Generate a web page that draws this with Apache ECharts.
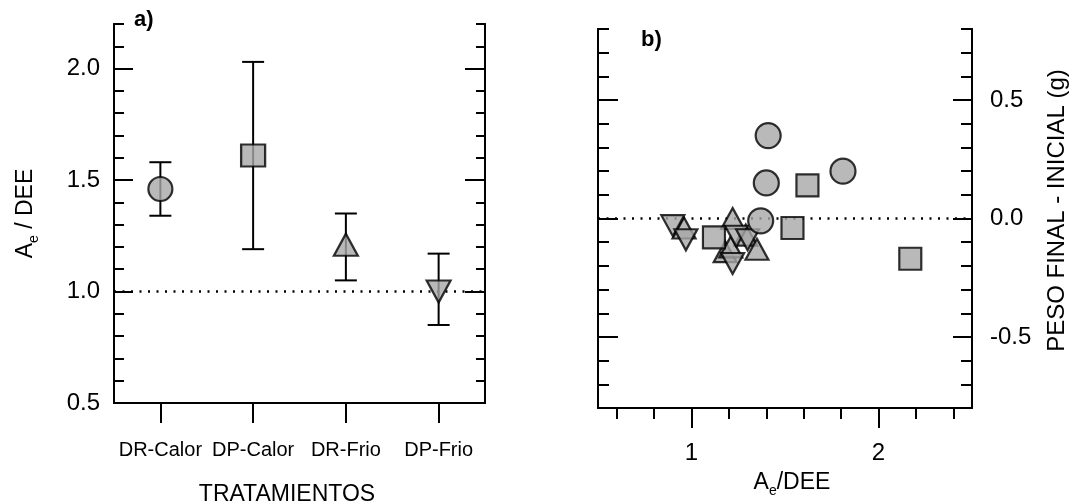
<!DOCTYPE html>
<html>
<head>
<meta charset="utf-8">
<script src="https://cdn.jsdelivr.net/npm/echarts@6/dist/echarts.min.js"></script>
<style>
  html, body { margin: 0; padding: 0; background: #fff; }
  #chart { width: 1073px; height: 503px; }
</style>
</head>
<body>
<div id="chart"></div>
<script>
// ---------- DATA ----------
// Panel a) : ratio Ae/DEE per treatment (mean and error-bar ends)
const treatments = ['DR-Calor', 'DP-Calor', 'DR-Frio', 'DP-Frio'];
const ratioMean  = [1.46, 1.61, 1.21, 1.00];
const ratioUpper = [1.58, 2.03, 1.35, 1.17];
const ratioLower = [1.34, 1.19, 1.05, 0.85];

// Panel b) : weight change vs Ae/DEE
const drCalorX = [1.41, 1.40, 1.81, 1.37];
const drCalorY = [0.35, 0.15, 0.20, -0.01];
const dpCalorX = [1.62, 1.54, 2.17, 1.12];
const dpCalorY = [0.14, -0.04, -0.17, -0.08];
const drFrioX  = [1.22, 0.96, 1.29, 1.18, 1.35, 1.21];
const drFrioY  = [0.00, -0.04, -0.07, -0.14, -0.13, -0.12];
const dpFrioX  = [0.90, 0.97, 1.24, 1.22, 1.30];
const dpFrioY  = [-0.03, -0.09, -0.075, -0.19, -0.09];

// Axis tick values
const aMajorTicks = [0.5, 1.0, 1.5, 2.0];
const aMinorTicks = [0.6, 0.7, 0.8, 0.9, 1.1, 1.2, 1.3, 1.4, 1.6, 1.7, 1.8, 1.9, 2.1, 2.2];
const bYMajorTicks = [-0.5, 0.0, 0.5];
const bYMinorTicks = [-0.8, -0.7, -0.6, -0.4, -0.3, -0.2, -0.1, 0.1, 0.2, 0.3, 0.4, 0.6, 0.7, 0.8];
const bXMajorTicks = [1, 2];
const bXMinorTicks = [0.6, 0.8, 1.2, 1.4, 1.6, 1.8, 2.2, 2.4];

// ---------- STYLE ----------
const FONT = "'Liberation Sans', Arial, sans-serif";
const INK = '#000';
const markerStyle = { color: '#a8a8a8', borderColor: INK, borderWidth: 2.2 };
const symbolsA = ['circle', 'rect', 'triangle', 'triangle'];
const sizesA = [24, [24, 22], [24, 22], [24, 22]];
const rotA = [0, 0, 0, 180];

function yAxis(gridIndex, position, min, max, ticks, len, extra) {
  return Object.assign({
    type: 'value', gridIndex, position, min, max,
    splitLine: { show: false },
    axisLine: { show: true, onZero: false, lineStyle: { color: INK, width: 2 } },
    axisTick: { show: true, inside: true, length: len, customValues: ticks, lineStyle: { color: INK, width: 2 } },
    axisLabel: { show: false }
  }, extra || {});
}

const option = {
  animation: false,
  backgroundColor: '#fff',
  grid: [
    { left: 114, top: 24, width: 371, height: 379, outerBoundsMode: 'none' },
    { left: 598, top: 29, width: 374, height: 379, outerBoundsMode: 'none' }
  ],
  graphic: [
    { type: 'text', left: 134, top: 9, style: { text: 'a)', font: "bold 22px 'Liberation Sans', Arial", fill: INK } },
    { type: 'text', left: 641, top: 29, style: { text: 'b)', font: "bold 22px 'Liberation Sans', Arial", fill: INK } }
  ],
  xAxis: [
    {
      type: 'category', gridIndex: 0, data: treatments, boundaryGap: true,
      axisLine: { show: true, onZero: false, lineStyle: { color: INK, width: 2 } },
      axisTick: { show: true, alignWithLabel: true, interval: 0, length: 20, lineStyle: { color: INK, width: 2 } },
      axisLabel: { show: true, interval: 0, margin: 37, fontSize: 20, fontFamily: FONT, color: INK },
      splitLine: { show: false },
      name: 'TRATAMIENTOS', nameLocation: 'middle', nameGap: 80,
      nameTextStyle: { fontSize: 23, fontFamily: FONT, color: INK, padding: [0, 25, 0, 0] }
    },
    {
      type: 'value', gridIndex: 1, min: 0.5, max: 2.5,
      splitLine: { show: false },
      axisLine: { show: true, onZero: false, lineStyle: { color: INK, width: 2 } },
      axisTick: { show: true, length: 11, customValues: bXMinorTicks, lineStyle: { color: INK, width: 2 } },
      axisLabel: { show: false }
    },
    {
      type: 'value', gridIndex: 1, min: 0.5, max: 2.5, position: 'bottom',
      splitLine: { show: false },
      axisLine: { show: false, onZero: false },
      axisTick: { show: true, length: 20, customValues: bXMajorTicks, lineStyle: { color: INK, width: 2 } },
      axisLabel: { show: true, customValues: bXMajorTicks, margin: 33, fontSize: 24, fontFamily: FONT, color: INK },
      name: '{a|A}{s|e}{a|/DEE}', nameLocation: 'middle', nameGap: 60,
      nameTextStyle: {
        padding: [0, 0, 0, 14],
        rich: {
          a: { fontSize: 23, fontFamily: FONT, color: INK, lineHeight: 30 },
          s: { fontSize: 14, fontFamily: FONT, color: INK, lineHeight: 14, verticalAlign: 'bottom' }
        }
      }
    }
  ],
  yAxis: [
    yAxis(0, 'left', 0.5, 2.2, aMajorTicks, 19, {
      axisLabel: { show: true, customValues: aMajorTicks, margin: 14, fontSize: 24, fontFamily: FONT, color: INK,
        formatter: v => v.toFixed(1) },
      name: '{a|A}{s|e}{a| / DEE}', nameLocation: 'middle', nameGap: 73, nameRotate: 90,
      nameTextStyle: {
        rich: {
          a: { fontSize: 23, fontFamily: FONT, color: INK, lineHeight: 30 },
          s: { fontSize: 14, fontFamily: FONT, color: INK, lineHeight: 14, verticalAlign: 'bottom' }
        }
      }
    }),
    yAxis(0, 'left', 0.5, 2.2, aMinorTicks, 10),
    yAxis(0, 'right', 0.5, 2.2, aMajorTicks, 20),
    yAxis(0, 'right', 0.5, 2.2, aMinorTicks, 9),
    yAxis(1, 'left', -0.8, 0.8, bYMajorTicks, 20),
    yAxis(1, 'left', -0.8, 0.8, bYMinorTicks, 11),
    yAxis(1, 'right', -0.8, 0.8, bYMajorTicks, 19, {
      axisLabel: { show: true, customValues: bYMajorTicks, margin: 18, fontSize: 24, fontFamily: FONT, color: INK,
        formatter: v => v.toFixed(1) },
      name: 'PESO FINAL - INICIAL (g)', nameLocation: 'middle', nameGap: 73, nameRotate: 90,
      nameTextStyle: { fontSize: 24, fontFamily: FONT, color: INK, padding: [0, 0, 0, 16] }
    }),
    yAxis(1, 'right', -0.8, 0.8, bYMinorTicks, 11)
  ],
  series: [
    {
      type: 'custom', xAxisIndex: 0, yAxisIndex: 0, z: 2,
      data: treatments.map((t, i) => [i, ratioLower[i], ratioUpper[i]]),
      renderItem: (params, api) => {
        const lo = api.coord([api.value(0), api.value(1)]);
        const hi = api.coord([api.value(0), api.value(2)]);
        const hw = 11;
        const st = { stroke: INK, lineWidth: 2 };
        return {
          type: 'group',
          children: [
            { type: 'line', shape: { x1: lo[0], y1: lo[1], x2: hi[0], y2: hi[1] }, style: st },
            { type: 'line', shape: { x1: lo[0] - hw, y1: lo[1], x2: lo[0] + hw, y2: lo[1] }, style: st },
            { type: 'line', shape: { x1: hi[0] - hw, y1: hi[1], x2: hi[0] + hw, y2: hi[1] }, style: st }
          ]
        };
      }
    },
    {
      type: 'scatter', xAxisIndex: 0, yAxisIndex: 0, z: 3,
      data: treatments.map((t, i) => ({
        value: [i, ratioMean[i]], symbol: symbolsA[i], symbolSize: sizesA[i], symbolRotate: rotA[i]
      })),
      itemStyle: markerStyle,
      markLine: {
        silent: true, symbol: 'none', label: { show: false }, z: 1,
        lineStyle: { color: INK, width: 2.5, type: [2, 6.5] },
        data: [{ yAxis: 1.0 }]
      }
    },
    {
      type: 'scatter', xAxisIndex: 1, yAxisIndex: 4, z: 3,
      symbol: 'triangle', symbolSize: [23, 21],
      data: drFrioX.map((x, i) => [x, drFrioY[i]]),
      itemStyle: markerStyle,
      markLine: {
        silent: true, symbol: 'none', label: { show: false }, z: 1,
        lineStyle: { color: INK, width: 2.5, type: [2, 6.5] },
        data: [{ yAxis: 0 }]
      }
    },
    {
      type: 'scatter', xAxisIndex: 1, yAxisIndex: 4, z: 3,
      symbol: 'triangle', symbolRotate: 180, symbolSize: [23, 21],
      data: dpFrioX.map((x, i) => [x, dpFrioY[i]]),
      itemStyle: markerStyle
    },
    {
      type: 'scatter', xAxisIndex: 1, yAxisIndex: 4, z: 3,
      symbol: 'rect', symbolSize: 22,
      data: dpCalorX.map((x, i) => [x, dpCalorY[i]]),
      itemStyle: markerStyle
    },
    {
      type: 'scatter', xAxisIndex: 1, yAxisIndex: 4, z: 3,
      symbol: 'circle', symbolSize: 25,
      data: drCalorX.map((x, i) => [x, drCalorY[i]]),
      itemStyle: markerStyle
    }
  ]
};

const chart = echarts.init(document.getElementById('chart'), null, { renderer: 'canvas' });
chart.setOption(option);
</script>
</body>
</html>
